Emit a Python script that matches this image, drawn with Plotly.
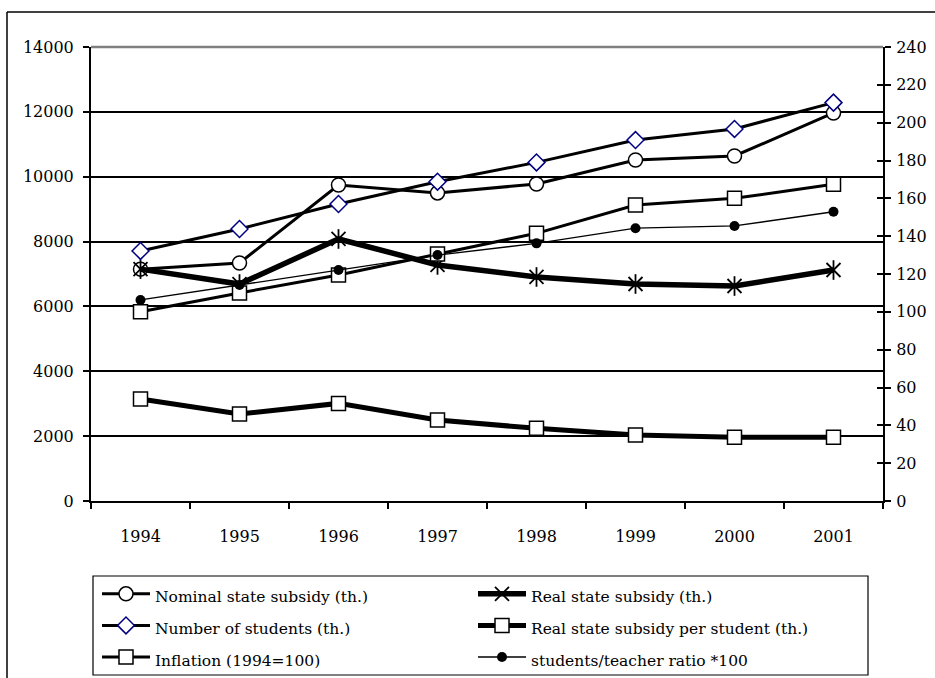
import plotly.graph_objects as go

years = ["1994", "1995", "1996", "1997", "1998", "1999", "2000", "2001"]

nominal_subsidy = [7150, 7340, 9745, 9500, 9776, 10516, 10640, 11966]
real_subsidy = [7150, 6690, 8080, 7280, 6908, 6692, 6630, 7123]
num_students = [132.2, 143.8, 157.0, 168.8, 179.0, 190.8, 196.7, 210.6]
per_student = [53.9, 46.0, 51.6, 42.8, 38.4, 34.9, 33.7, 33.7]
inflation = [100, 110, 119.5, 130.6, 141.5, 156.5, 160, 167.4]
ratio_x100 = [106.3, 114.2, 122.1, 130.0, 136.2, 144.2, 145.4, 152.9]

left_ticks = [0, 2000, 4000, 6000, 8000, 10000, 12000, 14000]
right_ticks = list(range(0, 241, 20))

FONT = "DejaVu Serif"
W, H = 935, 678
L, R, T, B = 91, 52, 47, 177
PW, PH = W - L - R, H - T - B


def px_x(p):
    return (p - L) / PW


def px_y(p):
    return (H - B - p) / PH


def lg(txt):
    return "<span style='font-size:15.5px'>" + txt + "</span>"


fig = go.Figure()

fig.add_trace(go.Scatter(
    x=years, y=nominal_subsidy, name=lg("Nominal state subsidy (th.)"), yaxis="y",
    mode="lines+markers", line=dict(color="black", width=3),
    marker=dict(symbol="circle", size=14, color="white", line=dict(color="black", width=1.5)),
    legendrank=1))

fig.add_trace(go.Scatter(
    x=years, y=real_subsidy, name=lg("Real state subsidy (th.)"), yaxis="y",
    mode="lines+markers", line=dict(color="black", width=5.5),
    marker=dict(symbol="x-thin-open", size=14, color="black", line=dict(color="black", width=1.8)),
    legendrank=2))
fig.add_trace(go.Scatter(
    x=years, y=real_subsidy, yaxis="y", showlegend=False, hoverinfo="skip",
    mode="markers",
    marker=dict(symbol="line-ns-open", size=14, color="black", line=dict(color="black", width=1.8))))

fig.add_trace(go.Scatter(
    x=years, y=num_students, name=lg("Number of students (th.)"), yaxis="y2",
    mode="lines+markers", line=dict(color="black", width=3),
    marker=dict(symbol="diamond", size=13, color="white", line=dict(color="#000080", width=1.5)),
    legendrank=3))

fig.add_trace(go.Scatter(
    x=years, y=per_student, name=lg("Real state subsidy per student (th.)"), yaxis="y2",
    mode="lines+markers", line=dict(color="black", width=5),
    marker=dict(symbol="square", size=14, color="white", line=dict(color="black", width=1.5)),
    legendrank=4))

fig.add_trace(go.Scatter(
    x=years, y=inflation, name=lg("Inflation (1994=100)"), yaxis="y2",
    mode="lines+markers", line=dict(color="black", width=3),
    marker=dict(symbol="square", size=14, color="white", line=dict(color="black", width=1.5)),
    legendrank=5))

fig.add_trace(go.Scatter(
    x=years, y=ratio_x100, name=lg("students/teacher ratio *100"), yaxis="y2",
    mode="lines+markers", line=dict(color="black", width=1.3),
    marker=dict(symbol="circle", size=10, color="black"),
    legendrank=6))

# extra overlay axis for inside ticks on right (cross ticks)
fig.add_trace(go.Scatter(x=years, y=[None] * 8, yaxis="y3", showlegend=False, hoverinfo="skip"))

shapes = [
    dict(type="line", xref="paper", yref="paper", x0=0, x1=1, y0=1, y1=1,
         line=dict(color="#808080", width=2.5), layer="above"),
    dict(type="line", xref="paper", yref="paper", x0=px_x(7), x1=px_x(7), y0=px_y(12), y1=px_y(H + 5),
         line=dict(color="black", width=1.5), layer="above"),
    dict(type="line", xref="paper", yref="paper", x0=px_x(7), x1=px_x(W + 5), y0=px_y(12), y1=px_y(12),
         line=dict(color="black", width=1.5), layer="above"),
    # legend frame
    dict(type="rect", xref="paper", yref="paper", x0=px_x(93), x1=px_x(868), y0=px_y(576), y1=px_y(675),
         line=dict(color="black", width=1.2), fillcolor="white", layer="above"),
]

fig.update_layout(
    width=W, height=H,
    margin=dict(l=L, r=R, t=T, b=B, autoexpand=False),
    paper_bgcolor="white", plot_bgcolor="white",
    font=dict(family=FONT, size=16, color="black"),
    showlegend=True,
    xaxis=dict(type="category", tickson="boundaries", ticks="outside", ticklen=6, tickwidth=1.5,
               tickcolor="black", showline=True, linecolor="black", linewidth=2, showgrid=False,
               zeroline=False, tickfont=dict(family=FONT, size=16, color="black"),
               ticklabelstandoff=20, range=[-0.5, 7.5]),
    yaxis=dict(range=[0, 14000], tickvals=left_ticks, ticktext=[str(v) for v in left_ticks],
               ticks="outside", ticklen=6, tickwidth=1.5, tickcolor="black",
               showline=True, linecolor="black", linewidth=2, showgrid=True, gridcolor="black",
               gridwidth=1.5, zeroline=False, tickfont=dict(family=FONT, size=16, color="black"),
               ticklabelstandoff=6),
    yaxis2=dict(range=[0, 240], tickvals=right_ticks, ticktext=[str(v) for v in right_ticks],
                overlaying="y", side="right", ticks="outside", ticklen=6, tickwidth=1.5,
                tickcolor="black", showline=True, linecolor="black", linewidth=2, showgrid=False,
                zeroline=False, tickfont=dict(family=FONT, size=16, color="black"),
                ticklabelstandoff=2),
    yaxis3=dict(range=[0, 240], tickvals=right_ticks, overlaying="y", side="right",
                ticks="inside", ticklen=6, tickwidth=1.5, tickcolor="black", showticklabels=False,
                showline=False, showgrid=False, zeroline=False),
    legend=dict(orientation="h", x=px_x(97), y=px_y(573), xanchor="left", yanchor="top",
                bgcolor="rgba(0,0,0,0)", borderwidth=0,
                entrywidth=313, entrywidthmode="pixels", itemwidth=48,
                font=dict(family=FONT, size=22, color="black"), traceorder="normal"),
    shapes=shapes,
)

fig.write_html("out.html", config={"displayModeBar": False},
               post_script="document.body.style.margin='0px';document.body.style.overflow='hidden';")
